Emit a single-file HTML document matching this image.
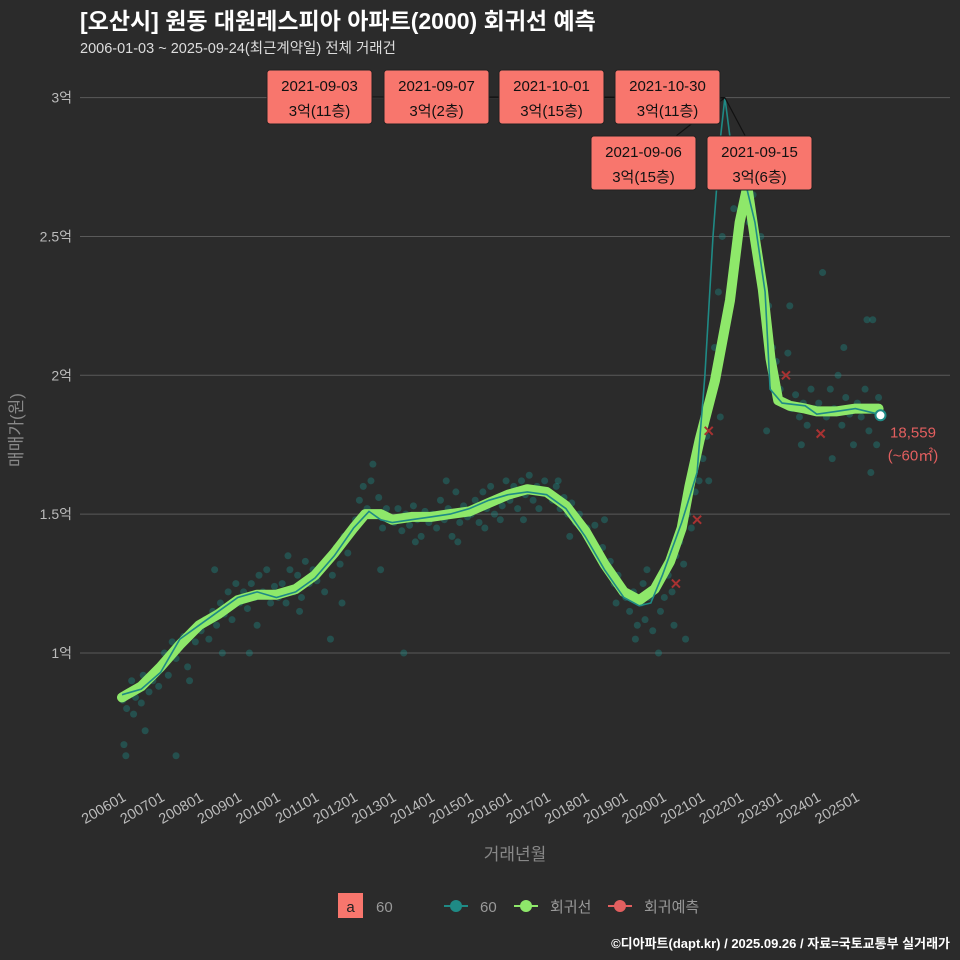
<!DOCTYPE html>
<html><head><meta charset="utf-8"><style>
body{margin:0;background:#2b2b2b;}
svg{display:block;font-family:"Liberation Sans","Noto Sans CJK KR",sans-serif;}
</style></head><body>
<svg id="c" width="960" height="960" viewBox="0 0 960 960">
<rect width="960" height="960" fill="#2b2b2b"/>
<text x="80" y="29" fill="#fff" font-size="23" font-weight="bold">[오산시] 원동 대원레스피아 아파트(2000) 회귀선 예측</text>
<text x="80" y="53" fill="#ddd" font-size="14.5">2006-01-03 ~ 2025-09-24(최근계약일) 전체 거래건</text>
<g id="grid"></g>
<g id="pts"></g>
<g id="lines"></g>
<g id="ann"></g>
<g id="xax"></g>
<text x="515" y="860" fill="#888" font-size="17" text-anchor="middle">거래년월</text>
<text transform="translate(22,430) rotate(-90)" fill="#888" font-size="17" text-anchor="middle">매매가(원)</text>
<g>
<rect x="338" y="893" width="25" height="25" fill="#f8766d"/>
<text x="350.5" y="912" font-size="15" text-anchor="middle" fill="#222">a</text>
<text x="376" y="912" font-size="15" fill="#999">60</text>
<line x1="444" y1="906" x2="468" y2="906" stroke="#1f8a85" stroke-width="2"/>
<circle cx="456" cy="906" r="6" fill="#1f8a85"/>
<text x="480" y="912" font-size="15" fill="#999">60</text>
<line x1="514" y1="906" x2="538" y2="906" stroke="#8ee86a" stroke-width="2"/>
<circle cx="526" cy="906" r="6" fill="#8ee86a"/>
<text x="550" y="912" font-size="15" fill="#999">회귀선</text>
<line x1="608" y1="906" x2="632" y2="906" stroke="#e35f5f" stroke-width="2"/>
<circle cx="620" cy="906" r="6" fill="#e35f5f"/>
<text x="644" y="912" font-size="15" fill="#999">회귀예측</text>
</g>
<text x="950" y="948" fill="#fff" font-size="13" font-weight="bold" text-anchor="end">©디아파트(dapt.kr) / 2025.09.26 / 자료=국토교통부 실거래가</text>
</svg>
<script>
const yTicks=[1,1.5,2,2.5,3];
const yTickLabels=['1억','1.5억','2억','2.5억','3억'];
const xTickYears=[2006,2007,2008,2009,2010,2011,2012,2013,2014,2015,2016,2017,2018,2019,2020,2021,2022,2023,2024,2025];
const xTickLabels=['200601','200701','200801','200901','201001','201101','201201','201301','201401','201501','201601','201701','201801','201901','202001','202101','202201','202301','202401','202501'];
const regT=[2006.0,2006.5,2007.0,2007.5,2008.0,2008.5,2009.0,2009.5,2010.0,2010.5,2011.0,2011.5,2012.0,2012.3,2012.7,2013.0,2013.5,2014.0,2014.5,2015.0,2015.5,2016.0,2016.5,2017.0,2017.5,2018.0,2018.5,2019.0,2019.4,2019.8,2020.2,2020.5,2020.7,2020.97,2021.36,2021.75,2022.0,2022.2,2022.4,2022.6,2022.8,2023.0,2023.3,2023.7,2024.0,2024.5,2025.0,2025.6];
const regV=[0.84,0.88,0.95,1.03,1.10,1.14,1.19,1.21,1.21,1.23,1.28,1.36,1.45,1.50,1.50,1.48,1.49,1.49,1.50,1.51,1.54,1.57,1.59,1.58,1.53,1.44,1.32,1.22,1.19,1.23,1.33,1.45,1.60,1.77,1.98,2.27,2.55,2.68,2.49,2.31,2.06,1.91,1.89,1.88,1.87,1.87,1.88,1.88];
const s60T=[2006.0,2006.5,2007.0,2007.5,2008.0,2008.5,2009.0,2009.5,2010.0,2010.5,2011.0,2011.5,2012.0,2012.4,2012.7,2013.0,2013.5,2014.0,2014.5,2015.0,2015.5,2016.0,2016.5,2017.0,2017.5,2018.0,2018.5,2019.0,2019.4,2019.7,2020.0,2020.5,2020.9,2021.1,2021.31,2021.5,2021.62,2021.85,2022.14,2022.4,2022.66,2022.79,2023.1,2023.7,2024.0,2024.5,2025.0,2025.6];
const s60V=[0.85,0.87,0.93,1.05,1.10,1.15,1.20,1.22,1.20,1.22,1.27,1.35,1.45,1.51,1.48,1.47,1.48,1.49,1.50,1.52,1.55,1.57,1.58,1.57,1.52,1.42,1.30,1.20,1.17,1.18,1.28,1.47,1.65,2.00,2.50,2.85,3.00,2.75,2.70,2.55,2.30,1.95,1.90,1.89,1.86,1.87,1.88,1.86];
const trades2006=[[2006.02,0.83],[2006.05,0.67],[2006.1,0.63],[2006.12,0.80],[2006.2,0.86],[2006.25,0.90],[2006.3,0.78],[2006.35,0.84],[2006.45,0.88],[2006.5,0.82],[2006.55,0.92],[2006.6,0.72],[2006.7,0.86],[2006.8,0.90],[2006.9,0.94],[2006.95,0.88]];
const trades2007=[[2007.05,0.96],[2007.1,1.00],[2007.2,0.92],[2007.3,1.04],[2007.4,0.98],[2007.5,1.02],[2007.6,1.06],[2007.7,0.95],[2007.8,1.08],[2007.9,1.04],[2007.4,0.63],[2007.75,0.90]];
const trades2008=[[2008.05,1.08],[2008.15,1.12],[2008.25,1.05],[2008.35,1.15],[2008.45,1.10],[2008.55,1.18],[2008.65,1.14],[2008.75,1.22],[2008.85,1.12],[2008.95,1.25],[2008.4,1.30],[2008.6,1.00]];
const trades2009=[[2009.05,1.18],[2009.15,1.22],[2009.25,1.16],[2009.35,1.25],[2009.45,1.20],[2009.55,1.28],[2009.65,1.22],[2009.75,1.30],[2009.85,1.18],[2009.95,1.24],[2009.5,1.10],[2009.3,1.00]];
const trades2010=[[2010.05,1.20],[2010.15,1.25],[2010.25,1.18],[2010.35,1.30],[2010.45,1.22],[2010.55,1.28],[2010.65,1.20],[2010.75,1.33],[2010.85,1.25],[2010.95,1.30],[2010.3,1.35],[2010.6,1.15]];
const trades2011=[[2011.05,1.26],[2011.15,1.30],[2011.25,1.22],[2011.35,1.34],[2011.45,1.28],[2011.55,1.38],[2011.65,1.32],[2011.75,1.42],[2011.85,1.36],[2011.95,1.45],[2011.4,1.05],[2011.7,1.18]];
const trades2012=[[2012.05,1.48],[2012.15,1.55],[2012.25,1.60],[2012.35,1.52],[2012.45,1.62],[2012.55,1.50],[2012.65,1.56],[2012.75,1.45],[2012.85,1.52],[2012.95,1.48],[2012.5,1.68],[2012.7,1.30]];
const trades2013=[[2013.05,1.47],[2013.15,1.52],[2013.25,1.44],[2013.35,1.50],[2013.45,1.46],[2013.55,1.53],[2013.65,1.48],[2013.75,1.42],[2013.85,1.51],[2013.95,1.47],[2013.3,1.00],[2013.6,1.40]];
const trades2014=[[2014.05,1.50],[2014.15,1.45],[2014.25,1.55],[2014.35,1.48],[2014.45,1.52],[2014.55,1.42],[2014.65,1.58],[2014.75,1.47],[2014.85,1.53],[2014.95,1.49],[2014.4,1.62],[2014.7,1.40]];
const trades2015=[[2015.05,1.50],[2015.15,1.55],[2015.25,1.47],[2015.35,1.58],[2015.45,1.52],[2015.55,1.60],[2015.65,1.50],[2015.75,1.56],[2015.85,1.53],[2015.95,1.62],[2015.4,1.45],[2015.8,1.48]];
const trades2016=[[2016.05,1.55],[2016.15,1.60],[2016.25,1.52],[2016.35,1.62],[2016.45,1.57],[2016.55,1.64],[2016.65,1.55],[2016.75,1.60],[2016.85,1.58],[2016.95,1.62],[2016.4,1.48],[2016.8,1.52]];
const trades2017=[[2017.05,1.58],[2017.15,1.55],[2017.25,1.60],[2017.35,1.52],[2017.45,1.56],[2017.55,1.50],[2017.65,1.54],[2017.75,1.47],[2017.85,1.50],[2017.95,1.45],[2017.3,1.62],[2017.6,1.42]];
const trades2018=[[2018.05,1.45],[2018.15,1.40],[2018.25,1.46],[2018.35,1.35],[2018.45,1.38],[2018.55,1.30],[2018.65,1.33],[2018.75,1.25],[2018.85,1.28],[2018.95,1.22],[2018.5,1.48],[2018.8,1.18]];
const trades2019=[[2019.05,1.20],[2019.15,1.15],[2019.25,1.22],[2019.35,1.10],[2019.45,1.18],[2019.55,1.12],[2019.65,1.20],[2019.75,1.08],[2019.85,1.25],[2019.95,1.15],[2019.3,1.05],[2019.6,1.30],[2019.9,1.00],[2019.5,1.25]];
const trades2020=[[2020.05,1.20],[2020.15,1.28],[2020.25,1.22],[2020.35,1.35],[2020.45,1.40],[2020.55,1.32],[2020.65,1.50],[2020.75,1.45],[2020.85,1.58],[2020.95,1.62],[2020.3,1.10],[2020.6,1.05]];
const trades2021=[[2021.05,1.70],[2021.15,1.78],[2021.25,1.90],[2021.35,2.10],[2021.45,2.30],[2021.55,2.50],[2021.65,2.70],[2021.75,2.85],[2021.85,2.60],[2021.95,2.72],[2021.2,1.62],[2021.5,1.85]];
const trades2022=[[2022.05,2.70],[2022.15,2.60],[2022.25,2.55],[2022.35,2.65],[2022.45,2.40],[2022.55,2.50],[2022.65,2.30],[2022.75,2.25],[2022.85,2.10],[2022.95,2.05],[2022.4,2.80],[2022.7,1.80]];
const trades2023=[[2023.05,1.95],[2023.15,1.90],[2023.25,2.08],[2023.35,1.88],[2023.45,1.93],[2023.55,1.85],[2023.65,1.90],[2023.75,1.82],[2023.85,1.95],[2023.95,1.88],[2023.3,2.25],[2023.6,1.75]];
const trades2024=[[2024.05,1.90],[2024.15,2.37],[2024.25,1.85],[2024.35,1.95],[2024.45,1.88],[2024.55,2.00],[2024.65,1.82],[2024.75,1.92],[2024.85,1.86],[2024.95,1.75],[2024.4,1.70],[2024.7,2.10]];
const trades2025=[[2025.05,1.90],[2025.15,1.85],[2025.25,1.95],[2025.35,1.80],[2025.45,2.20],[2025.5,1.88],[2025.55,1.75],[2025.6,1.92],[2025.3,2.20],[2025.4,1.65]];
const predT=[2020.35,2020.9,2021.2,2023.2,2024.1];
const predV=[1.25,1.48,1.80,2.0,1.79];
const lastT=2025.65, lastV=1.856, lastLabel='18,559';
const annDates=['2021-09-03','2021-09-07','2021-10-01','2021-10-30','2021-09-06','2021-09-15'];
const annTexts=['3억(11층)','3억(2층)','3억(15층)','3억(11층)','3억(15층)','3억(6층)'];
const annBoxX=[267,384,499,615,591,707];
const annBoxY=[70,70,70,70,136,136];

const X=t=>122+(t-2006)*38.6;
const Y=v=>653-(v-1)*277.7;
const NS='http://www.w3.org/2000/svg';
function mk(tag,parent,attrs){const e=document.createElementNS(NS,tag);for(const k in attrs)e.setAttribute(k,attrs[k]);document.getElementById(parent).appendChild(e);return e;}

yTicks.forEach((v,i)=>{
 const l=mk('line','grid',{x1:80,x2:950,y1:Y(v),y2:Y(v),stroke:'#5a5a5a','stroke-width':1});
 
 
 const t=mk('text','grid',{x:72,y:Y(v)+5,fill:'#bbb','font-size':14,'text-anchor':'end'});
 
 
 t.textContent=yTickLabels[i];
});
xTickYears.forEach((yr,i)=>{
 const t=mk('text','xax',{transform:`translate(${X(yr)+5},${800}) rotate(-30)`,fill:'#bbb','font-size':14.5,'text-anchor':'end'});
 
 
 t.textContent=xTickLabels[i];
});
const allTrades=[trades2006,trades2007,trades2008,trades2009,trades2010,trades2011,trades2012,trades2013,trades2014,trades2015,trades2016,trades2017,trades2018,trades2019,trades2020,trades2021,trades2022,trades2023,trades2024,trades2025];
allTrades.forEach(arr=>arr.forEach(([t,v])=>{
 const c=mk('circle','pts',{cx:X(t),cy:Y(v),r:3.5,fill:'#1f8a85','fill-opacity':0.4});
 
 
}));
const pathOf=(T,V)=>T.map((t,i)=>(i?'L':'M')+X(t).toFixed(1)+','+Y(V[i]).toFixed(1)).join('');
const rg=mk('path','lines',{d:pathOf(regT,regV),fill:'none',stroke:'#8ee86a','stroke-width':10,'stroke-linejoin':'round','stroke-linecap':'round'});


const sl=mk('path','lines',{d:pathOf(s60T,s60V),fill:'none',stroke:'#1f8a85','stroke-width':1.6});


predT.forEach((t,i)=>{
 const x=X(t),y=Y(predV[i]);
 const p=mk('path','lines',{d:`M${x-4},${y-4}L${x+4},${y+4}M${x-4},${y+4}L${x+4},${y-4}`,stroke:'#a83232','stroke-width':2});
 
 
});
const lc=mk('circle','lines',{cx:X(lastT),cy:Y(lastV),r:5,fill:'#fff',stroke:'#1f8a85','stroke-width':2});


const l1=mk('text','lines',{x:913,y:Y(lastV)+22,fill:'#e35f5f','font-size':15,'text-anchor':'middle'});


l1.textContent=lastLabel;
const l2=mk('text','lines',{x:913,y:Y(lastV)+45,fill:'#e35f5f','font-size':15,'text-anchor':'middle'});


l2.textContent='(~60㎡)';
const pk={x:X(2021.62),y:Y(3.0)};
annDates.forEach((d,i)=>{
 const bx=annBoxX[i],by=annBoxY[i];
 const ln=mk('line','ann',{x1:bx+52,y1:by+(i<4?27:26),x2:pk.x,y2:pk.y,stroke:'#111','stroke-width':1.2});
 
 
});
annDates.forEach((d,i)=>{
 const bx=annBoxX[i],by=annBoxY[i];
 const r=mk('rect','ann',{x:bx,y:by,width:105,height:54,rx:3,fill:'#f8766d',stroke:'#222'});
 
 
 const t1=mk('text','ann',{x:bx+52.5,y:by+21,fill:'#111','font-size':15,'text-anchor':'middle'});
 
 
 t1.textContent=d;
 const t2=mk('text','ann',{x:bx+52.5,y:by+46,fill:'#111','font-size':15,'text-anchor':'middle'});
 
 
 t2.textContent=annTexts[i];
});
</script>
</body></html>
